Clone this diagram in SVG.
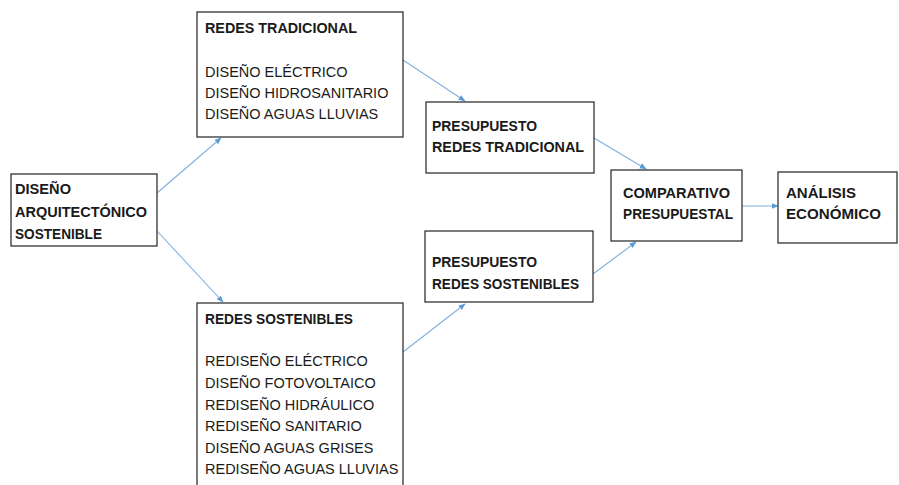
<svg xmlns="http://www.w3.org/2000/svg" width="899" height="485" viewBox="0 0 899 485">
<style>
.box{fill:#fff;stroke:#333;stroke-width:1.3}
.t{font-family:"Liberation Sans",Arial,sans-serif;font-size:14.5px;fill:#1a1a1a}
.b{font-weight:bold;font-size:15px}
.c{stroke:#7fb0e0;stroke-width:1.1;fill:none;marker-end:url(#ah)}
</style>
<defs>
<marker id="ah" viewBox="0 0 10 10" refX="9" refY="5" markerWidth="7" markerHeight="7" markerUnits="userSpaceOnUse" orient="auto">
<path d="M0,1 L10,5 L0,9 z" fill="#5b9bd5"/>
</marker>
</defs>
<rect width="899" height="485" fill="#fff"/>
<g id="connectors">
<line class="c" x1="157" y1="193" x2="221" y2="138"/>
<line class="c" x1="157" y1="231" x2="223" y2="302"/>
<line class="c" x1="403" y1="60" x2="465" y2="101"/>
<line class="c" x1="594" y1="138" x2="646" y2="169"/>
<line class="c" x1="403" y1="352" x2="465" y2="304"/>
<line class="c" x1="593" y1="274" x2="636" y2="242"/>
<line class="c" x1="742" y1="206" x2="778" y2="206"/>
</g>
<g id="n-arq">
<rect class="box" x="11" y="174" width="146" height="72"/>
<text class="t b" x="15" y="194" textLength="56" lengthAdjust="spacingAndGlyphs">DISEÑO</text>
<text class="t b" x="15" y="216.5" textLength="132" lengthAdjust="spacingAndGlyphs">ARQUITECTÓNICO</text>
<text class="t b" x="15" y="239" textLength="87" lengthAdjust="spacingAndGlyphs">SOSTENIBLE</text>
</g>
<g id="n-trad">
<rect class="box" x="197" y="12" width="206" height="125"/>
<text class="t b" x="205" y="33" textLength="152" lengthAdjust="spacingAndGlyphs">REDES TRADICIONAL</text>
<text class="t" x="205" y="76.5">DISEÑO ELÉCTRICO</text>
<text class="t" x="205" y="97.5">DISEÑO HIDROSANITARIO</text>
<text class="t" x="205" y="118.5">DISEÑO AGUAS LLUVIAS</text>
</g>
<g id="n-sost">
<rect class="box" x="197" y="303" width="206" height="195"/>
<text class="t b" x="205" y="323.5" textLength="148" lengthAdjust="spacingAndGlyphs">REDES SOSTENIBLES</text>
<text class="t" x="205" y="366">REDISEÑO ELÉCTRICO</text>
<text class="t" x="205" y="388">DISEÑO FOTOVOLTAICO</text>
<text class="t" x="205" y="409.5">REDISEÑO HIDRÁULICO</text>
<text class="t" x="205" y="431">REDISEÑO SANITARIO</text>
<text class="t" x="205" y="452.5">DISEÑO AGUAS GRISES</text>
<text class="t" x="205" y="474">REDISEÑO AGUAS LLUVIAS</text>
</g>
<g id="n-pres-trad">
<rect class="box" x="426" y="102" width="168" height="71"/>
<text class="t b" x="432" y="130.5" textLength="105" lengthAdjust="spacingAndGlyphs">PRESUPUESTO</text>
<text class="t b" x="432" y="151.5" textLength="152" lengthAdjust="spacingAndGlyphs">REDES TRADICIONAL</text>
</g>
<g id="n-pres-sost">
<rect class="box" x="425" y="231" width="168" height="71"/>
<text class="t b" x="432" y="266.5" textLength="105" lengthAdjust="spacingAndGlyphs">PRESUPUESTO</text>
<text class="t b" x="432" y="288.5" textLength="147" lengthAdjust="spacingAndGlyphs">REDES SOSTENIBLES</text>
</g>
<g id="n-comp">
<rect class="box" x="611" y="170" width="131" height="71"/>
<text class="t b" x="623" y="197.5" textLength="107" lengthAdjust="spacingAndGlyphs">COMPARATIVO</text>
<text class="t b" x="623" y="218.5" textLength="110" lengthAdjust="spacingAndGlyphs">PRESUPUESTAL</text>
</g>
<g id="n-anal">
<rect class="box" x="778" y="172" width="119" height="71"/>
<text class="t b" x="786" y="197.5" textLength="70" lengthAdjust="spacingAndGlyphs">ANÁLISIS</text>
<text class="t b" x="786" y="219" textLength="95" lengthAdjust="spacingAndGlyphs">ECONÓMICO</text>
</g>
</svg>
